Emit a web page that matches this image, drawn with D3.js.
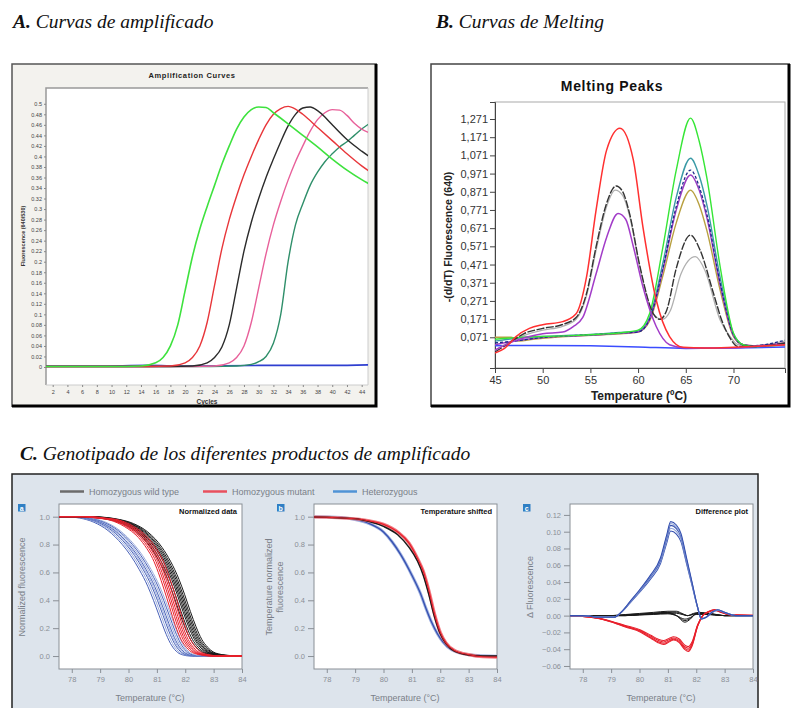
<!DOCTYPE html>
<html>
<head>
<meta charset="utf-8">
<script src="https://cdn.jsdelivr.net/npm/d3@7"></script>
<style>
  body { margin: 0; background: #fff; }
  svg { display: block; }
</style>
</head>
<body>
<svg id="fig" width="794" height="708"></svg>
<script>
// ---------- A. amplification curves [cycle, fluorescence] ----------
const ampGreen = [[1,0.001],[10,0.001],[14,0.002],[16,0.008],[17,0.018],[18,0.04],[19,0.08],[20,0.145],[21,0.21],[22,0.262],[23,0.305],[24,0.345],[25,0.385],[26,0.42],[27,0.452],[28,0.475],[29,0.489],[30,0.494],[31,0.493],[32,0.483],[34,0.462],[36,0.44],[38,0.418],[40,0.395],[42,0.374],[44,0.356],[45,0.348]];
const ampRed = [[1,0.001],[12,0.001],[18,0.002],[20,0.008],[21,0.018],[22,0.04],[23,0.085],[24,0.155],[25,0.225],[26,0.28],[27,0.325],[28,0.365],[29,0.4],[30,0.432],[31,0.46],[32,0.48],[33,0.491],[34,0.495],[35,0.49],[36,0.48],[38,0.455],[40,0.43],[42,0.405],[44,0.382],[45,0.372]];
const ampBlack = [[1,0.001],[15,0.001],[21,0.002],[23,0.008],[24,0.018],[25,0.038],[26,0.08],[27,0.15],[28,0.22],[29,0.275],[30,0.32],[31,0.36],[32,0.395],[33,0.428],[34,0.458],[35,0.48],[36,0.492],[37,0.494],[38,0.487],[39,0.475],[40,0.46],[42,0.432],[44,0.41],[45,0.4]];
const ampPink = [[1,0.001],[18,0.001],[24,0.002],[26,0.008],[27,0.018],[28,0.04],[29,0.085],[30,0.15],[31,0.215],[32,0.27],[33,0.315],[34,0.355],[35,0.39],[36,0.42],[37,0.448],[38,0.47],[39,0.483],[40,0.489],[41,0.488],[42,0.478],[43,0.463],[44,0.452],[45,0.445]];
const ampTeal = [[1,0.001],[20,0.001],[27,0.002],[29,0.005],[30,0.01],[31,0.02],[32,0.045],[33,0.1],[34,0.2],[35,0.27],[36,0.31],[37,0.345],[38,0.37],[39,0.39],[40,0.405],[41,0.418],[42,0.428],[43,0.44],[44,0.452],[45,0.462]];
const ampBlue = [[1,0.002],[8,0.002],[15,0.003],[20,0.002],[30,0.003],[40,0.003],[45,0.004]];
const ampYTicks = [0,0.02,0.04,0.06,0.08,0.1,0.12,0.14,0.16,0.18,0.2,0.22,0.24,0.26,0.28,0.3,0.32,0.34,0.36,0.38,0.4,0.42,0.44,0.46,0.48,0.5];
const ampXTicks = [2,4,6,8,10,12,14,16,18,20,22,24,26,28,30,32,34,36,38,40,42,44];

// ---------- B. melting peaks [temperature, -(d/dT)] ----------
const meltRed = [[45,-0.015],[46,0.01],[47.2,0.075],[48.6,0.12],[50,0.14],[52.1,0.157],[53.5,0.2],[54.6,0.404],[55.6,0.771],[56.7,1.1],[58.1,1.22],[59.5,1.046],[60.5,0.68],[61.9,0.276],[63.3,0.075],[64.7,0.016],[67,0.012],[70,0.016],[72,0.02],[75.4,0.03]];
const meltGray = [[45,-0.01],[46.5,0.04],[48,0.09],[50,0.12],[52,0.14],[53.5,0.18],[54.6,0.313],[55.6,0.57],[56.7,0.808],[57.7,0.903],[58.4,0.87],[59.1,0.752],[60.2,0.459],[61.6,0.2],[62.3,0.17],[63,0.22],[64,0.45],[65.5,0.633],[66.5,0.55],[67.9,0.313],[68.8,0.16],[69.6,0.07],[70.5,0.02],[72,0.02],[75.4,0.04]];
const meltSilver = [[45,0.0],[46.5,0.045],[48,0.08],[50,0.11],[52,0.13],[53.5,0.17],[54.6,0.3],[55.6,0.55],[56.7,0.79],[57.6,0.88],[58.4,0.85],[59.1,0.74],[60.2,0.45],[61.6,0.2],[62.5,0.17],[63.4,0.22],[64.5,0.42],[66,0.514],[67,0.44],[68.6,0.166],[69.65,0.075],[70.5,0.03],[72,0.025],[75.4,0.05]];
const meltPurpleL = [[45,0.0],[47,0.05],[48.6,0.075],[50,0.09],[52.1,0.1],[53.2,0.13],[54.2,0.18],[55.6,0.42],[56.7,0.62],[57.9,0.752],[58.7,0.72],[59.5,0.57],[60.5,0.35],[61.9,0.13],[63.3,0.03],[65,0.012],[70,0.012],[72,0.02],[75.4,0.03]];
const meltGreen = [[45,0.06],[48,0.072],[50,0.075],[53,0.08],[56,0.088],[58,0.095],[60,0.11],[61.2,0.2],[62.6,0.567],[64,0.99],[65.5,1.276],[66.4,1.15],[67.2,0.95],[68.6,0.46],[70,0.093],[71,0.03],[72,0.02],[75.4,0.03]];
const meltTeal = [[45,0.05],[48,0.07],[50,0.075],[53,0.082],[56,0.09],[58,0.097],[60,0.105],[61.2,0.18],[62.6,0.48],[64,0.84],[65.5,1.055],[66.4,0.96],[67.2,0.8],[68.6,0.4],[70,0.09],[71,0.03],[72,0.02],[75.4,0.035]];
const meltNavy = [[45,0.04],[47,0.05],[50,0.07],[53,0.08],[56,0.088],[58,0.095],[60,0.1],[61.2,0.17],[62.6,0.45],[64,0.79],[65.5,0.99],[66.4,0.9],[67.2,0.75],[68.6,0.37],[70,0.085],[71,0.03],[72,0.025],[75.4,0.055]];
const meltPurpleR = [[45,0.03],[47,0.05],[50,0.07],[53,0.078],[56,0.085],[58,0.092],[60,0.1],[61.2,0.17],[62.6,0.44],[64,0.77],[65.5,0.963],[66.4,0.88],[67.2,0.73],[68.6,0.36],[70,0.08],[71,0.03],[72,0.025],[75.4,0.04]];
const meltOlive = [[45,0.071],[46.7,0.071],[47.5,0.05],[49,0.06],[51,0.07],[53,0.076],[56,0.084],[58,0.09],[60,0.1],[61.2,0.16],[62.6,0.41],[64,0.7],[65.5,0.88],[66.4,0.8],[67.2,0.66],[68.6,0.33],[70,0.075],[71,0.03],[72,0.025],[75.4,0.03]];
const meltBlue = [[45,0.025],[50,0.026],[55,0.024],[60,0.018],[65,0.01],[70,0.012],[75.4,0.018]];
const meltYTicks = [0.071,0.171,0.271,0.371,0.471,0.571,0.671,0.771,0.871,0.971,1.071,1.171,1.271];
const meltXTicks = [45,50,55,60,65,70];

// ---------- C. genotyping (HRM) [temperature, value] ----------
const normBlack = [[77,1],[78.5,1],[79,0.995],[79.5,0.98],[80,0.95],[80.5,0.89],[81,0.78],[81.3,0.68],[81.6,0.55],[81.8,0.44],[82,0.32],[82.2,0.21],[82.4,0.12],[82.6,0.065],[82.8,0.03],[83,0.015],[83.5,0.003],[84.5,0]];
const normRed = [[77,1],[78.5,1],[79,0.99],[79.5,0.975],[80,0.93],[80.5,0.85],[80.8,0.77],[81,0.7],[81.2,0.6],[81.4,0.48],[81.6,0.35],[81.8,0.22],[82,0.12],[82.2,0.06],[82.4,0.025],[82.7,0.008],[83,0],[84.5,0]];
const normBlue = [[77,1],[78,1],[78.5,0.99],[79,0.96],[79.5,0.9],[80,0.8],[80.3,0.72],[80.6,0.62],[80.9,0.5],[81.1,0.4],[81.3,0.29],[81.5,0.18],[81.7,0.09],[81.9,0.035],[82.1,0.01],[82.4,0],[84.5,0]];
// replicate offsets in degrees, read from the spread of each group
const normBlackShift = [-0.22,-0.15,-0.08,-0.03,0.02,0.07,0.12,0.18];
const normRedShift = [-0.15,-0.08,-0.02,0.04,0.1,0.18];
const normBlueShift = [-0.22,-0.15,-0.08,-0.03,0.02,0.08,0.14,0.2];

const shiftRed = [[77,1],[79,0.985],[79.5,0.97],[80,0.945],[80.5,0.89],[80.9,0.81],[81.2,0.7],[81.4,0.61],[81.6,0.47],[81.8,0.3],[82,0.17],[82.2,0.095],[82.5,0.04],[83,0.01],[83.5,-0.005],[84.5,-0.01]];
const shiftBlack = [[77,1],[79,0.985],[79.5,0.965],[80,0.93],[80.5,0.87],[80.9,0.78],[81.2,0.68],[81.4,0.58],[81.6,0.44],[81.8,0.28],[82,0.16],[82.2,0.09],[82.5,0.035],[83,0.008],[83.5,0],[84.5,0]];
const shiftBlue = [[77,1],[78.5,0.995],[79,0.98],[79.5,0.95],[80,0.89],[80.3,0.82],[80.6,0.73],[81,0.58],[81.3,0.45],[81.5,0.34],[81.7,0.24],[81.9,0.16],[82.1,0.1],[82.4,0.045],[83,0.01],[84.5,-0.005]];

const diffBlue = [[77,0],[78,0],[78.6,-0.002],[79.1,-0.002],[79.35,0.004],[79.67,0.017],[80.03,0.032],[80.38,0.048],[80.74,0.069],[80.95,0.095],[81.1,0.112],[81.3,0.108],[81.46,0.098],[81.65,0.07],[81.85,0.04],[82.05,0.01],[82.18,-0.004],[82.35,-0.002],[82.55,0.004],[82.75,0.007],[83,0.004],[83.4,0],[84.5,0]];
const diffRed = [[77,0],[78,-0.001],[78.5,-0.003],[78.97,-0.007],[79.5,-0.013],[80.04,-0.019],[80.4,-0.026],[80.65,-0.031],[80.85,-0.033],[81.05,-0.03],[81.2,-0.028],[81.4,-0.031],[81.6,-0.039],[81.72,-0.041],[81.85,-0.035],[82.05,-0.012],[82.23,0],[82.45,0.005],[82.65,0.007],[82.9,0.004],[83.2,0.001],[84.5,0]];
const diffBlackA = [[77,0],[79,0],[79.5,0.001],[80,0.002],[80.5,0.003],[81,0.004],[81.3,0.004],[81.5,0.002],[81.7,0.0],[81.9,0.002],[82.1,0.003],[82.5,0.002],[83,0],[84.5,0]];
const diffBlackB = [[77,0],[79.5,0],[80,0.001],[80.5,0.002],[81,0.003],[81.3,0.0],[81.6,-0.006],[81.8,-0.003],[82,0.002],[82.3,0.002],[83,0],[84.5,0]];
// replicate amplitude ratios
const diffBlueScale = [0.9,0.93,0.96,0.98,1.0];
const diffRedScale = [0.9,0.95,1.0,1.04];
const diffBlackScale = [0.7,1.0,1.3];

const cXTicks = [78,79,80,81,82,83,84];
const cNormTicks = [0,0.2,0.4,0.6,0.8,1.0];
const cDiffTicks = [-0.06,-0.04,-0.02,0,0.02,0.04,0.06,0.08,0.1,0.12];
const legendLabels = ["Homozygous wild type","Homozygous mutant","Heterozygous"];

const svg = d3.select("#fig");
svg.append("rect").attr("width",794).attr("height",708).attr("fill","#fff");

function heading(x, y, letter, text) {
  let t = svg.append("text")
    .attr("x", x).attr("y", y)
    .attr("font-family", "'Liberation Serif', 'DejaVu Serif', serif")
    .attr("font-style", "italic")
    .attr("font-size", 19.5)
    .attr("fill", "#111");
  t.append("tspan").attr("font-weight", "bold").text(letter);
  t.append("tspan").text(" " + text);
}
heading(13, 28, "A.", "Curvas de amplificado");
heading(436, 28, "B.", "Curvas de Melting");
heading(20, 460, "C.", "Genotipado de los diferentes productos de amplificado");

function clip(id, x, y, w, h) {
  svg.append("clipPath").attr("id", id)
    .append("rect").attr("x", x).attr("y", y).attr("width", w).attr("height", h);
}

function drawLine(g, data, x, y, color, width, dash, opacity) {
  let line = d3.line()
    .x(d => x(d[0]))
    .y(d => y(d[1]))
    .curve(d3.curveMonotoneX);
  g.append("path")
    .datum(data)
    .attr("fill", "none")
    .attr("stroke", color)
    .attr("stroke-width", width)
    .attr("stroke-dasharray", dash || null)
    .attr("stroke-opacity", opacity || 1)
    .attr("d", line);
}

// ======================= Panel A =======================
let A = svg.append("g");
A.append("rect").attr("x", 12).attr("y", 64).attr("width", 365).attr("height", 343).attr("fill", "#f3f2ee");
A.append("path").attr("d", "M12,407 L12,64 L377,64").attr("fill", "none").attr("stroke", "#555").attr("stroke-width", 1.5);
A.append("path").attr("d", "M12,406 L376,406 L376,64").attr("fill", "none").attr("stroke", "#000").attr("stroke-width", 3);

let ax = d3.scaleLinear().domain([1.09, 44.86]).range([46, 368]);
let ay = d3.scaleLinear().domain([-0.0342, 0.530]).range([385, 88]);

A.append("rect").attr("x", 46).attr("y", 88).attr("width", 322).attr("height", 297).attr("fill", "#fff");
A.append("path").attr("d", "M46,385 L46,88 L368,88").attr("fill", "none").attr("stroke", "#999").attr("stroke-width", 1.5);
A.append("path").attr("d", "M46,385 L368,385 L368,88").attr("fill", "none").attr("stroke", "#ccc").attr("stroke-width", 1);

A.append("text").attr("x", 192).attr("y", 78).attr("text-anchor", "middle")
  .attr("font-family", "Arial, 'Liberation Sans', sans-serif").attr("font-size", 7.5)
  .attr("font-weight", "bold").attr("letter-spacing", 0.6).attr("fill", "#222")
  .text("Amplification Curves");

let ayAxis = A.append("g").attr("transform", "translate(46,0)")
  .call(d3.axisLeft(ay).tickValues(ampYTicks).tickSize(2).tickPadding(2)
    .tickFormat(d => d3.format("~g")(+d.toFixed(2))));
let axAxis = A.append("g").attr("transform", "translate(0,385)")
  .call(d3.axisBottom(ax).tickValues(ampXTicks).tickSize(2).tickPadding(3));
[ayAxis, axAxis].forEach(g => {
  g.select(".domain").remove();
  g.selectAll("line").attr("stroke", "#888");
  g.selectAll("text").attr("font-size", 5.5).attr("fill", "#444")
    .attr("font-family", "Arial, 'Liberation Sans', sans-serif");
});

A.append("text").attr("x", 207).attr("y", 404).attr("text-anchor", "middle")
  .attr("font-family", "Arial, 'Liberation Sans', sans-serif").attr("font-size", 6.5)
  .attr("font-weight", "bold").attr("fill", "#333").text("Cycles");
A.append("text").attr("transform", "translate(25,236) rotate(-90)").attr("text-anchor", "middle")
  .attr("font-family", "Arial, 'Liberation Sans', sans-serif").attr("font-size", 5.5)
  .attr("font-weight", "bold").attr("fill", "#333").text("Fluorescence (640/530)");

clip("clipA", 46, 88, 322, 297);
let aLines = A.append("g").attr("clip-path", "url(#clipA)");
drawLine(aLines, ampBlue, ax, ay, "#2f3fd0", 1.6);
drawLine(aLines, ampTeal, ax, ay, "#2f8f6a", 1.4);
drawLine(aLines, ampPink, ax, ay, "#e8609a", 1.4);
drawLine(aLines, ampBlack, ax, ay, "#2b2b2b", 1.4);
drawLine(aLines, ampRed, ax, ay, "#e8363a", 1.4);
drawLine(aLines, ampGreen, ax, ay, "#3ee23e", 1.6);

// ======================= Panel B =======================
let B = svg.append("g");
B.append("rect").attr("x", 431).attr("y", 64).attr("width", 359).attr("height", 343).attr("fill", "#fff");
B.append("path").attr("d", "M431,407 L431,64 L790,64").attr("fill", "none").attr("stroke", "#444").attr("stroke-width", 1.5);
B.append("path").attr("d", "M431,406 L789,406 L789,64").attr("fill", "none").attr("stroke", "#000").attr("stroke-width", 3);

let bx = d3.scaleLinear().domain([45, 75.4]).range([495, 785]);
let by = d3.scaleLinear().domain([-0.0978, 1.3645]).range([368, 102]);

B.append("rect").attr("x", 495).attr("y", 102).attr("width", 290).attr("height", 266)
  .attr("fill", "none").attr("stroke", "#aaa").attr("stroke-width", 1);

B.append("text").attr("x", 612).attr("y", 91).attr("text-anchor", "middle")
  .attr("font-family", "Arial, 'Liberation Sans', sans-serif").attr("font-size", 14)
  .attr("font-weight", "bold").attr("letter-spacing", 0.7).attr("fill", "#111")
  .text("Melting Peaks");

let byAxis = B.append("g").attr("transform", "translate(495,0)")
  .call(d3.axisLeft(by).tickValues(meltYTicks).tickSize(5).tickPadding(2)
    .tickFormat(d => d3.format(".3f")(d).replace(".", ",")));
let bxAxis = B.append("g").attr("transform", "translate(0,368)")
  .call(d3.axisBottom(bx).tickValues(meltXTicks).tickSize(5).tickPadding(3));
[byAxis, bxAxis].forEach(g => {
  g.select(".domain").attr("stroke", "#444");
  g.selectAll("line").attr("stroke", "#444");
  g.selectAll("text").attr("font-size", 11).attr("fill", "#333")
    .attr("font-family", "Arial, 'Liberation Sans', sans-serif");
});

B.append("text").attr("x", 639).attr("y", 400).attr("text-anchor", "middle")
  .attr("font-family", "Arial, 'Liberation Sans', sans-serif").attr("font-size", 12)
  .attr("font-weight", "bold").attr("fill", "#222").text("Temperature (ºC)");
B.append("text").attr("transform", "translate(452,237) rotate(-90)").attr("text-anchor", "middle")
  .attr("font-family", "Arial, 'Liberation Sans', sans-serif").attr("font-size", 10.5)
  .attr("font-weight", "bold").attr("fill", "#222").text("-(d/dT) Fluorescence (640)");

clip("clipB", 495, 102, 290, 266);
let bLines = B.append("g").attr("clip-path", "url(#clipB)");
drawLine(bLines, meltBlue, bx, by, "#3a4cff", 1.5);
drawLine(bLines, meltSilver, bx, by, "#b0b0b0", 1.3);
drawLine(bLines, meltOlive, bx, by, "#b8a040", 1.4);
drawLine(bLines, meltTeal, bx, by, "#3a9aa6", 1.4);
drawLine(bLines, meltPurpleR, bx, by, "#9b3cc2", 1.4);
drawLine(bLines, meltNavy, bx, by, "#1c2a8a", 1.3, "3,2");
drawLine(bLines, meltGreen, bx, by, "#36e636", 1.4);
drawLine(bLines, meltGray, bx, by, "#333", 1.4, "8,1.5");
drawLine(bLines, meltPurpleL, bx, by, "#a23cc8", 1.5);
drawLine(bLines, meltRed, bx, by, "#ff3030", 1.5);

// ======================= Panel C =======================
let C = svg.append("g");
C.append("rect").attr("x", 12).attr("y", 474).attr("width", 746).attr("height", 240).attr("fill", "#dde4ec");
C.append("path").attr("d", "M12,712 L12,474 L758,474 L758,712").attr("fill", "none").attr("stroke", "#222").attr("stroke-width", 1.5);

// legend
let legendColors = ["#6b6b6b", "#e8505e", "#4f93d6"];
let legendX = [60, 203, 333];
legendLabels.forEach((lab, i) => {
  C.append("line").attr("x1", legendX[i]).attr("x2", legendX[i] + 24)
    .attr("y1", 491.5).attr("y2", 491.5).attr("stroke", legendColors[i]).attr("stroke-width", 2.5);
  C.append("text").attr("x", legendX[i] + 29).attr("y", 494.5)
    .attr("font-family", "Arial, 'Liberation Sans', sans-serif").attr("font-size", 9)
    .attr("fill", "#7a7f88").text(lab);
});

function hrmPanel(x0, id, badge, bx0, title, yDomain, yTicks, yFmt, yLabel, yLabelX) {
  let g = C.append("g");
  let x = d3.scaleLinear().domain([77.55, 84]).range([x0, x0 + 183]);
  let y = d3.scaleLinear().domain(yDomain).range([669, 504]);
  g.append("rect").attr("x", x0).attr("y", 504).attr("width", 183).attr("height", 165)
    .attr("fill", "#fff").attr("stroke", "#8a8f96").attr("stroke-width", 1);

  g.append("rect").attr("x", bx0).attr("y", 504).attr("width", 7.5).attr("height", 7.5).attr("fill", "#2f7fc4");
  g.append("text").attr("x", bx0 + 3.75).attr("y", 510.5).attr("text-anchor", "middle")
    .attr("font-family", "Arial, 'Liberation Sans', sans-serif").attr("font-size", 7)
    .attr("font-weight", "bold").attr("fill", "#fff").text(badge);

  let yA = g.append("g").attr("transform", "translate(" + x0 + ",0)")
    .call(d3.axisLeft(y).tickValues(yTicks).tickSize(6).tickPadding(3).tickFormat(yFmt));
  let xA = g.append("g").attr("transform", "translate(0,669)")
    .call(d3.axisBottom(x).tickValues(cXTicks).tickSize(4).tickPadding(4).tickFormat(d3.format("d")));
  [yA, xA].forEach(a => {
    a.select(".domain").remove();
    a.selectAll("line").attr("stroke", "#8a8f96");
    a.selectAll("text").attr("font-size", 7.5).attr("fill", "#8a8f96")
      .attr("font-family", "Arial, 'Liberation Sans', sans-serif");
  });

  g.append("text").attr("x", x0 + 91).attr("y", 701).attr("text-anchor", "middle")
    .attr("font-family", "Arial, 'Liberation Sans', sans-serif").attr("font-size", 9)
    .attr("fill", "#7a7f88").text("Temperature (°C)");
  yLabel.forEach((t, i) => {
    g.append("text").attr("transform", "translate(" + (yLabelX + i * 10.5) + ",587) rotate(-90)")
      .attr("text-anchor", "middle")
      .attr("font-family", "Arial, 'Liberation Sans', sans-serif").attr("font-size", 9)
      .attr("fill", "#7a7f88").text(t);
  });

  g.append("text").attr("x", x0 + 178).attr("y", 514).attr("text-anchor", "end")
    .attr("font-family", "Arial, 'Liberation Sans', sans-serif").attr("font-size", 7.5)
    .attr("font-weight", "bold").attr("fill", "#111").text(title);

  clip(id, x0, 504, 183, 165);
  let lines = g.append("g").attr("clip-path", "url(#" + id + ")");
  return { x: x, y: y, lines: lines };
}

let f1 = d3.format(".1f");
let f2 = d3.format(".2f");

// a: normalized data
let pa = hrmPanel(59, "clipCa", "a", 18, "Normalized data", [-0.093, 1.091], cNormTicks, f1, ["Normalized fluorescence"], 25);
normBlueShift.forEach((s, i) => {
  drawLine(pa.lines, normBlue.map(d => [d[0] + s, d[1]]), pa.x, pa.y, i % 2 ? "#8fa3d8" : "#3550b0", 1, null, 0.9);
});
normBlackShift.forEach(s => {
  drawLine(pa.lines, normBlack.map(d => [d[0] + s, d[1]]), pa.x, pa.y, "#1a1a1a", 1);
});
normRedShift.forEach(s => {
  drawLine(pa.lines, normRed.map(d => [d[0] + s, d[1]]), pa.x, pa.y, "#e8202c", 1);
});

// b: temperature shifted
let pb = hrmPanel(314, "clipCb", "b", 277, "Temperature shifted", [-0.093, 1.091], cNormTicks, f1, ["Temperature normalized", "fluorescence"], 272);
drawLine(pb.lines, shiftBlue, pb.x, pb.y, "#9fb0e0", 3);
drawLine(pb.lines, shiftBlue, pb.x, pb.y, "#3550b0", 1.3);
drawLine(pb.lines, shiftRed, pb.x, pb.y, "#f27a80", 3.2);
drawLine(pb.lines, shiftBlack, pb.x, pb.y, "#1a1a1a", 1.5);
drawLine(pb.lines, shiftRed, pb.x, pb.y, "#e8202c", 1.2);

// c: difference plot
let pc = hrmPanel(570, "clipCc", "c", 523, "Difference plot", [-0.0636, 0.133], cDiffTicks, f2, ["\u0394 Fluorescence"], 533);
diffBlackScale.forEach(s => {
  drawLine(pc.lines, diffBlackA.map(d => [d[0], d[1] * s]), pc.x, pc.y, "#1a1a1a", 1);
  drawLine(pc.lines, diffBlackB.map(d => [d[0], d[1] * s]), pc.x, pc.y, "#1a1a1a", 1);
});
diffRedScale.forEach(s => {
  drawLine(pc.lines, diffRed.map(d => [d[0], d[1] * s]), pc.x, pc.y, "#e8202c", 1.1);
});
diffBlueScale.forEach((s, i) => {
  drawLine(pc.lines, diffBlue.map(d => [d[0], d[1] * s]), pc.x, pc.y, i % 2 ? "#8fa3d8" : "#3550b0", 1.1);
});
</script>
</body>
</html>
